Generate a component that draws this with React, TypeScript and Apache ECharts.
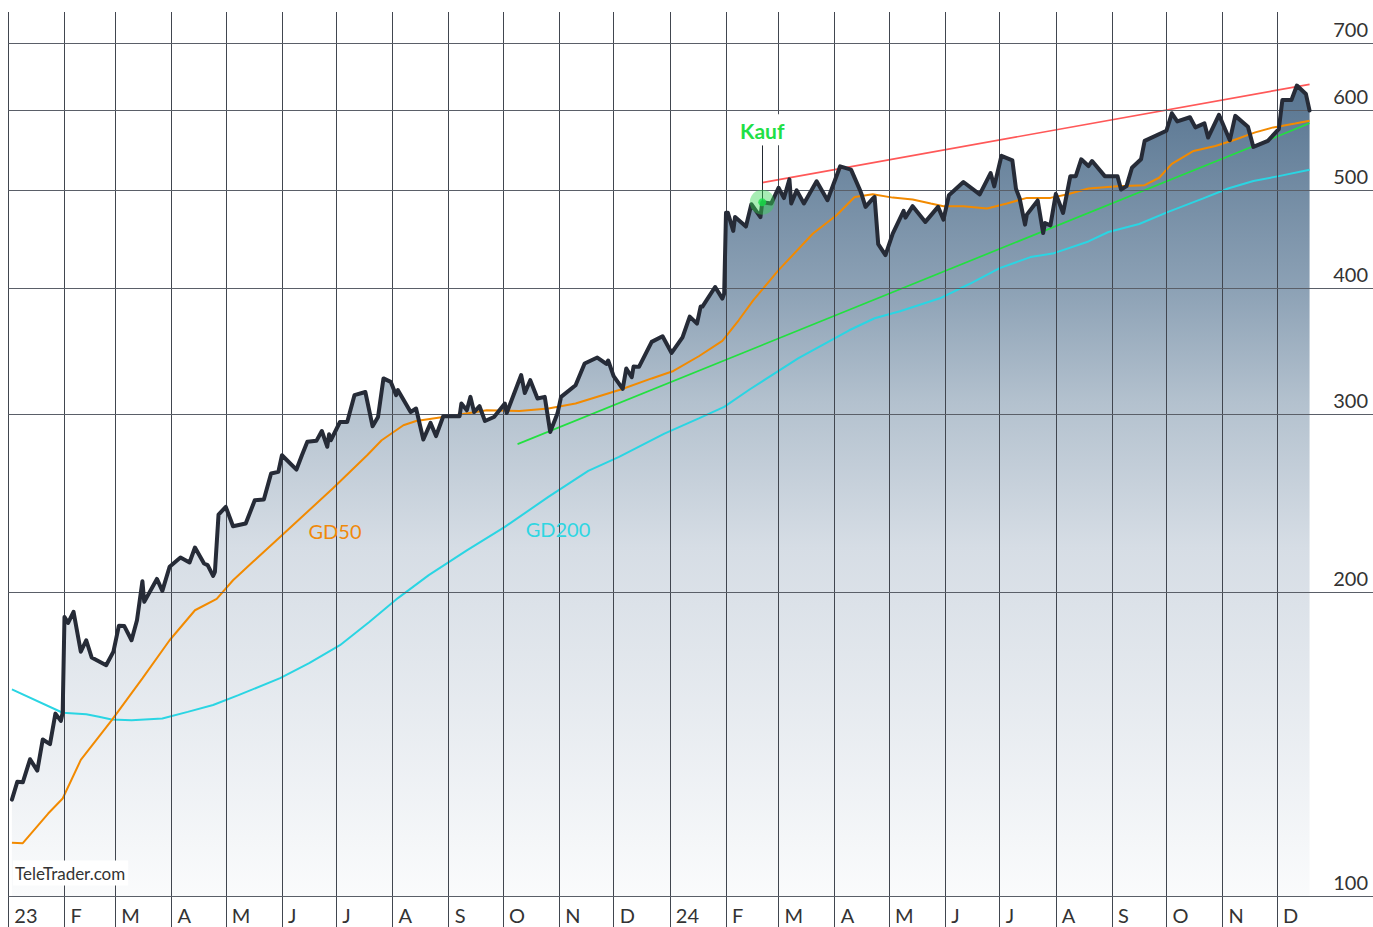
import React, { useEffect, useRef } from 'react';
import * as echarts from 'echarts';

const FONT = 'Lato, "Open Sans", "DejaVu Sans", sans-serif';
const DAY = 86400000;

// axis extent (left edge = 1 Jan 2023, right edge = 23 Jan 2025)
const X_START = '2023-01-01';
const X_SPAN_DAYS = 753;
const Y_MIN = 93.18;
const Y_MAX = 751;

const monthLetters = ['', 'F', 'M', 'A', 'M', 'J', 'J', 'A', 'S', 'O', 'N', 'D'];
const yTicks = [100, 200, 300, 400, 500, 600, 700];
const monthStarts = [
  '2023-01-01', '2023-02-01', '2023-03-01', '2023-04-01', '2023-05-01', '2023-06-01',
  '2023-07-01', '2023-08-01', '2023-09-01', '2023-10-01', '2023-11-01', '2023-12-01',
  '2024-01-01', '2024-02-01', '2024-03-01', '2024-04-01', '2024-05-01', '2024-06-01',
  '2024-07-01', '2024-08-01', '2024-09-01', '2024-10-01', '2024-11-01', '2024-12-01',
];

const price: [string, number][] = [
  ['2023-01-03', 124.6], ['2023-01-06', 129.8], ['2023-01-09', 129.6], ['2023-01-13', 136.6],
  ['2023-01-17', 133.1], ['2023-01-20', 142.9], ['2023-01-24', 141.4], ['2023-01-27', 151.6],
  ['2023-01-30', 149.1], ['2023-01-31', 151.9], ['2023-02-01', 189.0], ['2023-02-03', 186.4],
  ['2023-02-06', 191.2], ['2023-02-10', 174.6], ['2023-02-13', 179.2], ['2023-02-16', 172.3],
  ['2023-02-24', 169.3], ['2023-02-28', 174.6], ['2023-03-03', 185.2], ['2023-03-06', 185.1],
  ['2023-03-10', 179.2], ['2023-03-13', 187.6], ['2023-03-16', 205.0], ['2023-03-17', 195.6],
  ['2023-03-24', 206.1], ['2023-03-27', 200.6], ['2023-03-31', 211.9], ['2023-04-06', 216.4],
  ['2023-04-11', 214.0], ['2023-04-14', 221.4], ['2023-04-19', 213.5], ['2023-04-21', 212.7],
  ['2023-04-24', 207.5], ['2023-04-25', 209.4], ['2023-04-27', 238.7], ['2023-05-01', 242.9],
  ['2023-05-05', 232.4], ['2023-05-12', 233.9], ['2023-05-17', 246.6], ['2023-05-22', 247.0],
  ['2023-05-26', 262.1], ['2023-05-30', 263.1], ['2023-06-01', 273.3], ['2023-06-09', 264.5],
  ['2023-06-12', 273.3], ['2023-06-15', 281.8], ['2023-06-20', 282.4], ['2023-06-23', 288.8],
  ['2023-06-26', 278.6], ['2023-06-27', 286.7], ['2023-06-28', 282.8], ['2023-07-03', 294.8],
  ['2023-07-07', 294.8], ['2023-07-11', 313.4], ['2023-07-17', 315.7], ['2023-07-21', 291.9],
  ['2023-07-24', 298.2], ['2023-07-27', 325.6], ['2023-07-31', 323.1], ['2023-08-03', 313.4],
  ['2023-08-04', 317.0], ['2023-08-11', 301.6], ['2023-08-14', 304.0], ['2023-08-18', 283.3],
  ['2023-08-22', 294.2], ['2023-08-25', 285.5], ['2023-08-29', 298.7], ['2023-09-07', 298.7],
  ['2023-09-08', 307.5], ['2023-09-11', 302.8], ['2023-09-13', 312.2], ['2023-09-15', 301.6],
  ['2023-09-18', 305.6], ['2023-09-21', 295.5], ['2023-09-26', 298.2], ['2023-10-02', 307.5],
  ['2023-10-03', 300.9], ['2023-10-11', 328.1], ['2023-10-13', 314.9], ['2023-10-16', 324.3],
  ['2023-10-20', 311.0], ['2023-10-24', 312.2], ['2023-10-27', 288.2], ['2023-10-31', 300.5],
  ['2023-11-02', 312.2], ['2023-11-10', 320.6], ['2023-11-15', 336.9], ['2023-11-22', 341.5],
  ['2023-11-27', 336.5], ['2023-11-28', 339.2], ['2023-12-01', 327.3], ['2023-12-06', 317.9],
  ['2023-12-08', 333.1], ['2023-12-11', 326.5], ['2023-12-12', 334.6], ['2023-12-15', 334.3],
  ['2023-12-22', 353.9], ['2023-12-28', 358.5], ['2024-01-02', 345.1], ['2024-01-08', 357.6],
  ['2024-01-12', 374.9], ['2024-01-16', 369.0], ['2024-01-18', 383.6], ['2024-01-19', 383.6],
  ['2024-01-26', 401.1], ['2024-01-30', 390.6], ['2024-01-31', 395.1], ['2024-02-01', 475.1],
  ['2024-02-02', 475.2], ['2024-02-05', 455.8], ['2024-02-06', 470.6], ['2024-02-12', 460.4],
  ['2024-02-15', 484.4], ['2024-02-20', 470.3], ['2024-02-21', 486.7], ['2024-02-26', 485.3],
  ['2024-03-01', 503.0], ['2024-03-04', 491.3], ['2024-03-07', 512.7], ['2024-03-08', 485.3],
  ['2024-03-11', 500.0], ['2024-03-15', 485.3], ['2024-03-22', 510.4], ['2024-03-28', 488.9],
  ['2024-04-04', 528.2], ['2024-04-10', 524.2], ['2024-04-15', 500.0], ['2024-04-16', 494.4],
  ['2024-04-18', 481.5], ['2024-04-22', 490.7], ['2024-04-23', 492.5], ['2024-04-25', 442.2],
  ['2024-04-29', 431.3], ['2024-05-03', 453.1], ['2024-05-09', 477.1], ['2024-05-10', 469.9],
  ['2024-05-14', 482.3], ['2024-05-21', 465.3], ['2024-05-28', 481.5], ['2024-05-31', 467.7],
  ['2024-06-03', 494.4], ['2024-06-11', 509.6], ['2024-06-20', 495.5], ['2024-06-26', 520.1],
  ['2024-06-28', 504.6], ['2024-07-02', 541.0], ['2024-07-08', 535.5], ['2024-07-10', 501.8],
  ['2024-07-12', 491.1], ['2024-07-15', 462.4], ['2024-07-16', 473.1], ['2024-07-22', 488.6],
  ['2024-07-25', 453.6], ['2024-07-26', 464.1], ['2024-07-29', 461.7], ['2024-08-01', 496.0],
  ['2024-08-05', 474.9], ['2024-08-09', 516.5], ['2024-08-12', 516.5], ['2024-08-15', 536.7],
  ['2024-08-19', 528.5], ['2024-08-21', 534.6], ['2024-08-28', 516.5], ['2024-09-04', 516.5],
  ['2024-09-06', 500.9], ['2024-09-09', 504.8], ['2024-09-12', 526.5], ['2024-09-17', 536.7],
  ['2024-09-19', 559.8], ['2024-10-01', 572.8], ['2024-10-04', 596.1], ['2024-10-07', 585.2],
  ['2024-10-14', 590.7], ['2024-10-17', 577.2], ['2024-10-22', 582.5], ['2024-10-24', 564.0],
  ['2024-10-30', 594.0], ['2024-11-05', 560.6], ['2024-11-08', 592.6], ['2024-11-15', 578.1],
  ['2024-11-18', 552.1], ['2024-11-26', 559.8], ['2024-12-02', 574.9], ['2024-12-04', 614.5],
  ['2024-12-09', 614.5], ['2024-12-12', 635.0], ['2024-12-17', 622.8], ['2024-12-19', 599.8],
];

const gd50: [string, number][] = [
  ['2023-01-03', 112.9], ['2023-01-09', 112.8], ['2023-01-23', 120.7], ['2023-01-31', 124.9],
  ['2023-02-10', 136.4], ['2023-02-27', 149.3], ['2023-03-16', 164.3], ['2023-03-31', 179.2],
  ['2023-04-14', 191.9], ['2023-04-26', 196.9], ['2023-05-05', 205.5], ['2023-05-16', 214.3],
  ['2023-06-01', 227.7], ['2023-06-29', 253.3], ['2023-07-18', 273.3], ['2023-07-26', 282.8],
  ['2023-08-07', 292.6], ['2023-08-14', 295.5], ['2023-08-29', 298.2], ['2023-09-08', 300.1],
  ['2023-09-22', 302.8], ['2023-10-10', 302.3], ['2023-10-26', 304.0], ['2023-11-10', 307.5],
  ['2023-12-05', 317.5], ['2023-12-22', 325.6], ['2024-01-03', 331.2], ['2024-01-17', 342.5],
  ['2024-01-30', 354.7], ['2024-02-08', 371.8], ['2024-02-16', 389.1], ['2024-03-01', 416.8],
  ['2024-03-20', 453.1], ['2024-04-02', 472.4], ['2024-04-12', 492.5], ['2024-04-22', 495.5],
  ['2024-05-03', 491.8], ['2024-05-14', 489.7], ['2024-05-24', 485.3], ['2024-05-31', 482.3],
  ['2024-06-11', 482.3], ['2024-06-24', 479.7], ['2024-07-05', 485.3], ['2024-07-16', 491.5],
  ['2024-07-29', 491.5], ['2024-08-07', 495.4], ['2024-08-19', 502.1], ['2024-09-04', 504.8],
  ['2024-09-19', 505.9], ['2024-09-27', 514.6], ['2024-10-04', 531.2], ['2024-10-16', 547.0],
  ['2024-10-28', 553.3], ['2024-11-07', 560.6], ['2024-11-19', 570.7], ['2024-11-29', 577.2],
  ['2024-12-11', 582.5], ['2024-12-19', 586.1],
];

const gd200: [string, number][] = [
  ['2023-01-03', 160.2], ['2023-01-31', 151.9], ['2023-02-13', 151.4], ['2023-02-20', 150.5],
  ['2023-02-27', 149.6], ['2023-03-10', 149.3], ['2023-03-27', 149.9], ['2023-04-10', 152.2],
  ['2023-04-24', 154.6], ['2023-05-08', 158.1], ['2023-05-31', 164.4], ['2023-06-16', 170.1],
  ['2023-07-03', 177.2], ['2023-07-19', 186.7], ['2023-08-04', 197.3], ['2023-08-21', 207.9],
  ['2023-09-11', 220.0], ['2023-10-02', 232.1], ['2023-10-26', 248.5], ['2023-11-17', 263.7],
  ['2023-12-04', 272.3], ['2023-12-29', 287.1], ['2024-01-17', 297.2], ['2024-01-31', 305.1],
  ['2024-02-14', 317.5], ['2024-03-12', 341.0], ['2024-04-09', 363.4], ['2024-04-23', 373.5],
  ['2024-05-07', 379.5], ['2024-05-29', 390.9], ['2024-06-14', 403.6], ['2024-07-01', 418.7],
  ['2024-07-18', 429.4], ['2024-07-31', 433.3], ['2024-08-19', 445.0], ['2024-08-30', 454.7],
  ['2024-09-16', 463.1], ['2024-10-02', 476.0], ['2024-10-21', 490.7], ['2024-11-04', 502.1],
  ['2024-11-18', 510.7], ['2024-12-02', 516.5], ['2024-12-19', 524.1],
];

const supportTrend: [string, number][] = [['2023-10-09', 280.3], ['2024-12-19', 582.6]];
const resistanceTrend: [string, number][] = [['2024-02-21', 509.0], ['2024-12-19', 636.8]];
const buySignal: [string, number] = ['2024-02-21', 486.7];
const buyLabelTop = 554.2;

function ts(s: string): number {
  const [y, m, d] = s.split('-').map(Number);
  return Date.UTC(y, m - 1, d);
}
const toPts = (arr: [string, number][]) => arr.map(([d, v]) => [ts(d), v]);

function buildOption() {
  const xMin = ts(X_START);
  const xMax = xMin + X_SPAN_DAYS * DAY;
  const lastMonth = ts(monthStarts[monthStarts.length - 1]);

  const gridLines: any[] = [
    ...monthStarts.map((m) => ({ xAxis: ts(m), lineStyle: { color: '#41464f', width: 1 } })),
    ...yTicks.map((v) => ({
      yAxis: v,
      lineStyle: { color: '#5a5f68', width: 1 },
      label: {
        show: true,
        position: 'insideEndTop',
        formatter: String(v),
        color: '#333',
        fontSize: 20,
        fontFamily: FONT,
        distance: [5, 4],
      },
    })),
  ];

  const buyTs = ts(buySignal[0]);

  return {
    animation: false,
    useUTC: true,
    backgroundColor: '#ffffff',
    grid: { left: 8.3, right: 0, top: 12, bottom: 0, containLabel: false },
    xAxis: {
      type: 'time',
      min: xMin,
      max: xMax,
      splitNumber: 24,
      axisLine: { show: false },
      axisTick: { show: false },
      splitLine: { show: false },
      axisLabel: {
        inside: true,
        align: 'left',
        verticalAlign: 'bottom',
        margin: 2,
        lineHeight: 20,
        padding: [0, 0, 0, 6],
        fontSize: 20,
        color: '#333',
        fontFamily: FONT,
        hideOverlap: false,
        showMaxLabel: false,
        formatter: (val: number) => {
          const d = new Date(val);
          if (d.getUTCDate() !== 1 || d.getUTCHours() !== 0 || val > lastMonth) return '';
          const m = d.getUTCMonth();
          return m === 0 ? String(d.getUTCFullYear()).slice(2) : monthLetters[m];
        },
      },
    },
    yAxis: { type: 'log', logBase: 10, min: Y_MIN, max: Y_MAX, show: false },
    graphic: [
      {
        type: 'text', x: 13, y: 873, z: 100,
        style: {
          text: 'TeleTrader.com', fill: '#333', fontSize: 17, fontFamily: FONT,
          align: 'left', verticalAlign: 'middle', textAlign: 'left', textVerticalAlign: 'middle',
          backgroundColor: '#ffffff', padding: [4, 3, 4, 2],
        },
      },
      {
        type: 'text', x: 335, y: 531, z: 100,
        style: {
          text: 'GD50', fill: '#f0890a', fontSize: 20, fontFamily: FONT,
          align: 'center', verticalAlign: 'middle', textAlign: 'center', textVerticalAlign: 'middle',
        },
      },
      {
        type: 'text', x: 558, y: 529, z: 100,
        style: {
          text: 'GD200', fill: '#2fd6e2', fontSize: 20, fontFamily: FONT,
          align: 'center', verticalAlign: 'middle', textAlign: 'center', textVerticalAlign: 'middle',
        },
      },
    ],
    series: [
      {
        name: 'area',
        type: 'line',
        data: toPts(price),
        symbol: 'none',
        silent: true,
        z: 1,
        lineStyle: { width: 0, opacity: 0 },
        areaStyle: {
          origin: 100,
          opacity: 1,
          color: new echarts.graphic.LinearGradient(0, 0, 0, 1, [
            { offset: 0, color: '#587591' },
            { offset: 0.25, color: '#8ca1b5' },
            { offset: 0.39, color: '#b3c1ce' },
            { offset: 0.57, color: '#d6dde5' },
            { offset: 1, color: '#fafbfc' },
          ]),
        },
      },
      {
        name: 'grid',
        type: 'line',
        data: [],
        symbol: 'none',
        silent: true,
        z: 3,
        markLine: {
          silent: true,
          symbol: ['none', 'none'],
          animation: false,
          lineStyle: { color: '#41464f', width: 1, type: 'solid' },
          label: { show: false },
          emphasis: { disabled: true },
          data: gridLines,
        },
      },
      {
        name: 'GD200',
        type: 'line',
        data: toPts(gd200),
        symbol: 'none',
        z: 4,
        lineStyle: { color: '#2ad5e3', width: 2 },
      },
      {
        name: 'GD50',
        type: 'line',
        data: toPts(gd50),
        symbol: 'none',
        z: 4,
        lineStyle: { color: '#f28a00', width: 2 },
      },
      {
        name: 'support',
        type: 'line',
        data: toPts(supportTrend),
        symbol: 'none',
        z: 4,
        lineStyle: { color: '#22e040', width: 1.7 },
      },
      {
        name: 'resistance',
        type: 'line',
        data: toPts(resistanceTrend),
        symbol: 'none',
        z: 4,
        lineStyle: { color: '#ff5858', width: 1.7 },
      },
      {
        name: 'price',
        type: 'line',
        data: toPts(price),
        symbol: 'none',
        z: 5,
        lineStyle: { color: '#262b37', width: 4, join: 'round', cap: 'round' },
      },
      {
        name: 'buyHalo',
        type: 'scatter',
        data: [[buyTs, buySignal[1]]],
        symbolSize: 25,
        z: 6,
        itemStyle: { color: 'rgba(55, 215, 85, 0.55)' },
        markLine: {
          silent: true,
          symbol: ['none', 'none'],
          lineStyle: { color: '#222831', width: 1, type: 'solid' },
          label: {
            show: true,
            position: 'end',
            formatter: 'Kauf',
            color: '#1fe046',
            fontWeight: 'bold',
            fontSize: 21,
            fontFamily: FONT,
            backgroundColor: '#ffffff',
            padding: [6, 5, 4, 5],
            distance: 0,
          },
          data: [[{ coord: [buyTs, buySignal[1]] }, { coord: [buyTs, buyLabelTop] }]],
        },
      },
      {
        name: 'buyDot',
        type: 'scatter',
        data: [[buyTs, buySignal[1]]],
        symbolSize: 8,
        z: 7,
        itemStyle: { color: '#18e048' },
      },
    ],
  };
}

export default function App() {
  const ref = useRef<HTMLDivElement>(null);
  useEffect(() => {
    if (!ref.current) return;
    const chart = echarts.init(ref.current, null, { renderer: 'svg' });
    chart.setOption(buildOption() as any);
    return () => chart.dispose();
  }, []);
  return (
    <div
      ref={ref}
      style={{ position: 'fixed', left: 0, top: 0, width: 1373, height: 927, background: '#fff' }}
    />
  );
}
